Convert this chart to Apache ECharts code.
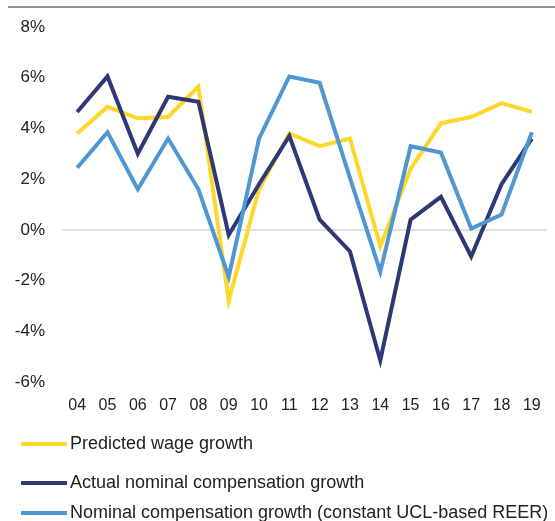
<!DOCTYPE html>
<html>
<head>
<meta charset="utf-8">
<script src="https://cdn.jsdelivr.net/npm/echarts@6/dist/echarts.min.js"></script>
<style>
  html, body { margin: 0; padding: 0; background: #fff; }
  #main { width: 555px; height: 521px; }
</style>
</head>
<body>
<div id="main"></div>
<script>
// years on the x axis
const years = ['04', '05', '06', '07', '08', '09', '10', '11', '12', '13', '14', '15', '16', '17', '18', '19'];

// series values, in %
const predictedWage = [3.8, 4.85, 4.4, 4.45, 5.65, -2.8, 1.6, 3.8, 3.3, 3.6, -0.65, 2.4, 4.2, 4.45, 5.0, 4.65];
const actualComp = [4.65, 6.05, 3.0, 5.25, 5.05, -0.2, 1.8, 3.7, 0.4, -0.85, -5.15, 0.4, 1.3, -1.05, 1.8, 3.6];
const constantReer = [2.45, 3.85, 1.6, 3.6, 1.6, -1.85, 3.6, 6.05, 5.8, 2.05, -1.65, 3.3, 3.05, 0.05, 0.6, 3.85];

const seriesNames = [
    'Predicted wage growth',
    'Actual nominal compensation growth',
    'Nominal compensation growth (constant UCL-based REER)'
];
const colors = ['#ffd72a', '#2d3877', '#4f97d2'];

const chart = echarts.init(document.getElementById('main'));

const font = 'Liberation Sans, Arial, sans-serif';

const lineSeries = (name, data, color) => ({
    name: name,
    type: 'line',
    data: data,
    symbol: 'none',
    lineStyle: { width: 4, color: color, join: 'miter' },
    itemStyle: { color: color }
});

// one legend per row, stacked down the bottom
const legendRow = (name, top) => ({
    orient: 'vertical',
    left: 21,
    top: top,
    padding: 0,
    itemWidth: 46,
    itemHeight: 4,
    icon: 'rect',
    textStyle: { fontFamily: font, fontSize: 18, color: '#222', padding: [0, 0, 0, -2] },
    data: [name]
});

const option = {
    animation: false,
    color: colors,
    grid: { left: 62, right: 8, top: 27, bottom: 139 },
    graphic: [{
        // thin rule along the top of the figure
        type: 'line',
        shape: { x1: 8, y1: 7, x2: 555, y2: 7 },
        style: { stroke: '#222', lineWidth: 1 }
    }],
    legend: [
        legendRow(seriesNames[0], 435),
        legendRow(seriesNames[1], 474),
        legendRow(seriesNames[2], 504)
    ],
    xAxis: {
        type: 'category',
        data: years,
        boundaryGap: true,
        axisLine: { show: false },
        axisTick: { show: false },
        axisLabel: { fontFamily: font, fontSize: 16, color: '#222', margin: 16 }
    },
    yAxis: {
        type: 'value',
        min: -6,
        max: 8,
        interval: 2,
        axisLine: { show: false },
        axisTick: { show: false },
        splitLine: { show: false },
        axisLabel: {
            fontFamily: font, fontSize: 17, color: '#222', margin: 17,
            formatter: v => v + '%'
        }
    },
    series: [
        Object.assign(lineSeries(seriesNames[0], predictedWage, colors[0]), {
            markLine: {
                silent: true,
                symbol: 'none',
                label: { show: false },
                lineStyle: { color: '#d9d9d9', width: 1.5, type: 'solid' },
                data: [{ yAxis: 0 }],
                z: 1
            }
        }),
        lineSeries(seriesNames[1], actualComp, colors[1]),
        lineSeries(seriesNames[2], constantReer, colors[2])
    ]
};

chart.setOption(option);
</script>
</body>
</html>
